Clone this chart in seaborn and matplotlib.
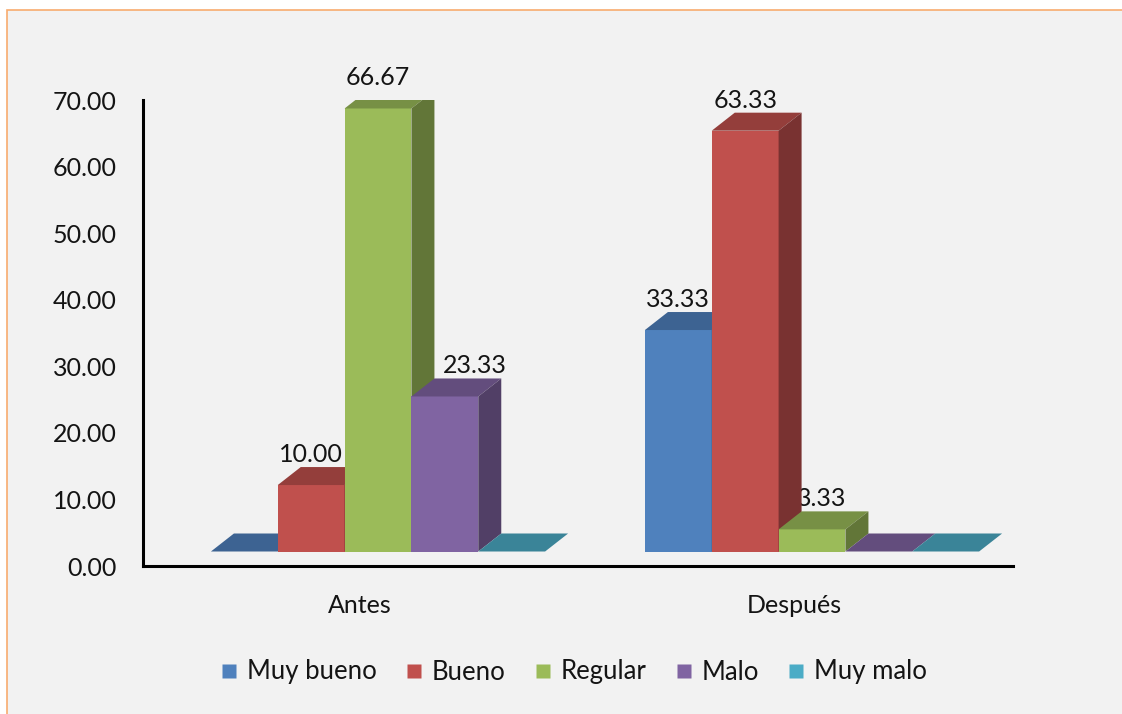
import numpy as np
import pandas as pd
import matplotlib
matplotlib.use("Agg")
import matplotlib.pyplot as plt
from matplotlib.patches import Polygon, Rectangle
from matplotlib.lines import Line2D
from matplotlib.colors import to_rgb
import seaborn as sns

# ---------------- data ----------------
periodos = ["Antes", "Después"]
categorias = ["Muy bueno", "Bueno", "Regular", "Malo", "Muy malo"]
valores_antes = [0.00, 10.00, 66.67, 23.33, 0.00]
valores_despues = [33.33, 63.33, 3.33, 0.00, 0.00]
yticks = [0, 10, 20, 30, 40, 50, 60, 70]
colores = ["#4f81bd", "#c0504d", "#9bbb59", "#8064a2", "#4bacc6"]

df = pd.DataFrame({
    "periodo": [p for p in periodos for _ in categorias],
    "categoria": categorias * len(periodos),
    "valor": valores_antes + valores_despues,
})

# ---------------- style ----------------
sns.set_theme(style="white")
plt.rcParams["font.family"] = ["Lato", "DejaVu Sans"]
TXT = "#141414"
BG = "#f2f2f2"

W, H = 1122, 714
fig = plt.figure(figsize=(W / 100, H / 100), dpi=100)
fig.patch.set_facecolor("white")
fig.patches.append(Rectangle((7 / W, -0.2), 1.2, (H - 10) / H + 0.2, transform=fig.transFigure,
                             facecolor=BG, edgecolor="#f8ac6e", linewidth=1.2, zorder=-10))

# axes rectangle in pixels
x_left, x_right, y_top, y_bot = 143, 1013, 100, 566
rect = [x_left / W, (H - y_bot) / H, (x_right - x_left) / W, (y_bot - y_top) / H]

# axis frame (ticks/labels)
ax_axis = fig.add_axes(rect)
ax_axis.set_facecolor("none")
# bars axes (front plane lifted above the axis floor, Excel 3D look)
ax = fig.add_axes(rect)
ax.set_facecolor("none")

sns.barplot(data=df, x="periodo", y="valor", hue="categoria", palette=colores,
            hue_order=categorias, order=periodos, width=0.77, saturation=1,
            legend=False, ax=ax, linewidth=0)

xlim = (-0.5415, 1.4631)
ax.set_xlim(*xlim)
ax_axis.set_xlim(*xlim)

px_per_unit = 6.645
lift_px = 14.5
ax_h_px = y_bot - y_top
ymin = -lift_px / px_per_unit
ax.set_ylim(ymin, ymin + ax_h_px / px_per_unit)
ax_axis.set_ylim(0, 70)
ax.axis("off")

# axis styling
for s in ["top", "right"]:
    ax_axis.spines[s].set_visible(False)
for s in ["left", "bottom"]:
    ax_axis.spines[s].set_color("#000000")
    ax_axis.spines[s].set_linewidth(2.2)
ax_axis.set_yticks(yticks)
ax_axis.set_yticklabels([f"{v:.2f}" for v in yticks])
shift = -0.041
ax_axis.set_xticks([i + shift for i in range(len(periodos))])
ax_axis.set_xticklabels(periodos)
ax_axis.tick_params(axis="y", length=0, pad=19, labelsize=18, labelcolor=TXT)
ax_axis.tick_params(axis="x", length=0, pad=20, labelsize=18, labelcolor=TXT)
ax_axis.set_xlabel("")
ax_axis.set_ylabel("")

# ---------------- 3D faces ----------------
dx_px, dy_px = 23, 18
(x0d, y0d) = ax.transData.transform((0, 0))
(x1d, y1d) = ax.transData.transform((1, 1))
dx = dx_px / (x1d - x0d)
dy = dy_px / (y1d - y0d)

def shade(c, f):
    r, g, b = to_rgb(c)
    return (r * f, g * f, b * f)

bars = []
for ci, cont in enumerate(ax.containers):
    for bar in cont:
        bars.append((bar.get_x(), bar, ci))
bars.sort(key=lambda t: t[0])

label_nudge = {("Antes", "Malo"): 30, ("Después", "Regular"): 10}

for rank, (xb, bar, ci) in enumerate(bars):
    z = 3 + rank * 0.1
    x0 = bar.get_x()
    w = bar.get_width()
    x1 = x0 + w
    h = bar.get_height()
    base = colores[ci]
    bar.set_facecolor(base)
    bar.set_edgecolor("none")
    bar.set_zorder(z)
    top = Polygon([(x0, h), (x1, h), (x1 + dx, h + dy), (x0 + dx, h + dy)], closed=True,
                  facecolor=shade(base, 0.77), edgecolor="none", zorder=z)
    ax.add_patch(top)
    if h > 0:
        side = Polygon([(x1, 0), (x1 + dx, dy), (x1 + dx, h + dy), (x1, h)], closed=True,
                       facecolor=shade(base, 0.63), edgecolor="none", zorder=z)
        ax.add_patch(side)
        per = periodos[0 if x0 + w / 2 < 0.5 else 1]
        nud = label_nudge.get((per, categorias[ci]), 0) / (x1d - x0d)
        ax.text(x0 + w / 2 + nud, h + dy + 5 / px_per_unit, f"{h:.2f}", ha="center",
                va="baseline", fontsize=18, color=TXT, zorder=2)

# ---------------- legend ----------------
handles = [Line2D([0], [0], marker="s", linestyle="none", markersize=10.5,
                  markerfacecolor=c, markeredgecolor="none") for c in colores]
leg = fig.legend(handles, categorias, loc="center", ncol=5, frameon=False,
                 bbox_to_anchor=(574 / W, (H - 672) / H), fontsize=18.5,
                 handlelength=0.6, handletextpad=0.4, columnspacing=1.15)
for t in leg.get_texts():
    t.set_color(TXT)

fig.savefig("out.png", dpi=100, facecolor=fig.get_facecolor())
